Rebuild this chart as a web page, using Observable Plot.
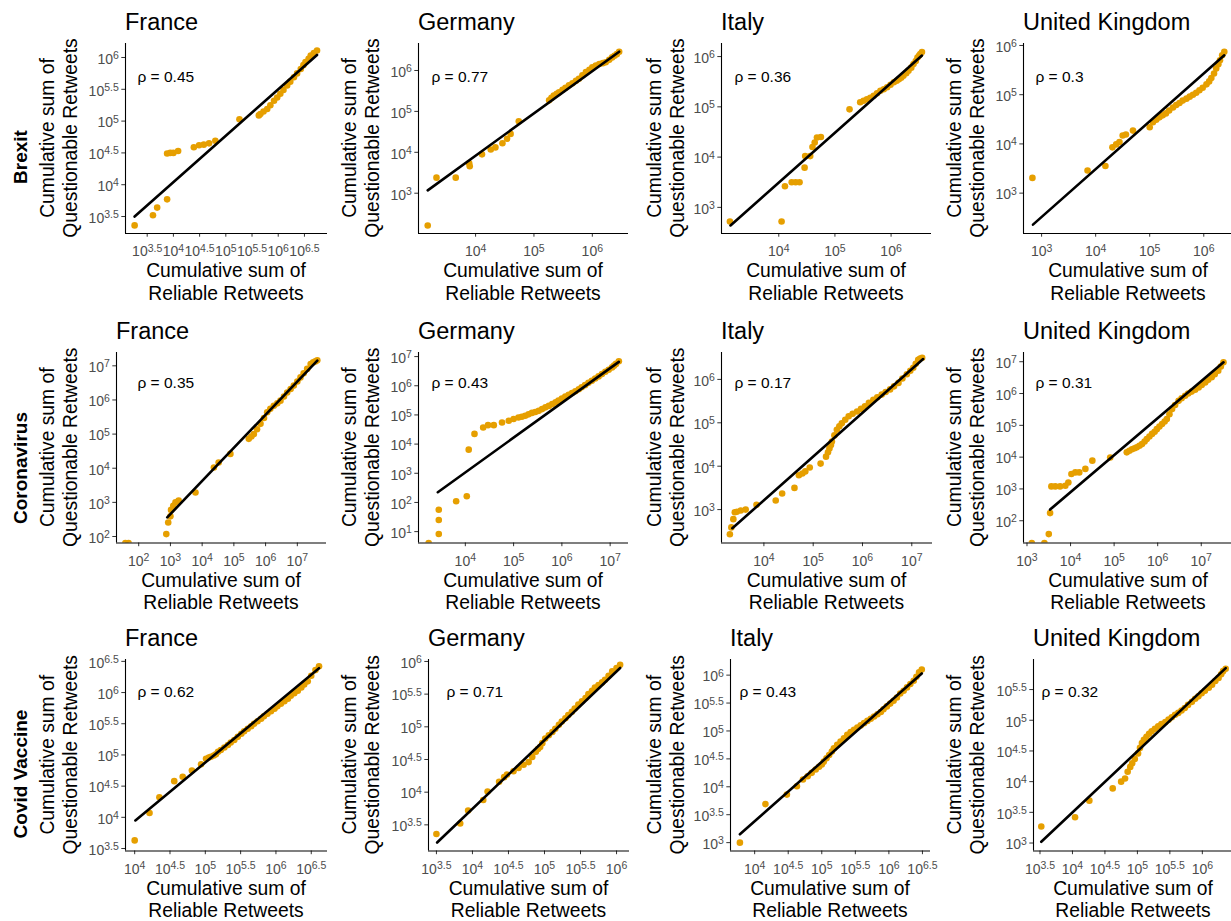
<!DOCTYPE html>
<html><head><meta charset="utf-8">
<script src="https://cdn.jsdelivr.net/npm/d3@7"></script>
<script src="https://cdn.jsdelivr.net/npm/@observablehq/plot@0.6"></script>
<style>
html,body{margin:0;padding:0;background:#fff;}
#fig{position:relative;width:1231px;height:921px;overflow:hidden;background:#fff;}
</style></head><body><div id="fig"></div>
<script>
// ---------- data: log10 of cumulative sums ----------
const topics = ["Brexit", "Coronavirus", "Covid Vaccine"];
const countries = ["France", "Germany", "Italy", "United Kingdom"];
const rhoValues = [0.45, 0.77, 0.36, 0.3, 0.35, 0.43, 0.17, 0.31, 0.62, 0.71, 0.43, 0.32];

const brexitFrance = [[3.26,3.36],[3.61,3.52],[3.69,3.64],[3.88,3.77],[3.88,4.49],[3.94,4.50],[4.00,4.50],[4.09,4.53],[4.39,4.59],[4.49,4.62],[4.58,4.63],[4.68,4.65],[4.80,4.69],[5.26,5.03],[5.63,5.09],[5.66,5.11],[5.72,5.15],[5.79,5.19],[5.85,5.25],[5.92,5.32],[5.98,5.37],[6.04,5.43],[6.10,5.49],[6.17,5.56],[6.23,5.62],[6.30,5.69],[6.36,5.75],[6.43,5.82],[6.48,5.88],[6.52,5.93],[6.58,5.98],[6.62,6.03],[6.68,6.07],[6.74,6.11]];
const brexitGermany = [[3.18,2.21],[3.33,3.38],[3.66,3.38],[3.89,3.73],[3.90,3.66],[4.11,3.95],[4.26,4.07],[4.34,4.12],[4.46,4.22],[4.54,4.33],[4.60,4.45],[4.74,4.76],[5.26,5.27],[5.30,5.33],[5.34,5.39],[5.39,5.43],[5.43,5.47],[5.49,5.53],[5.54,5.58],[5.60,5.64],[5.66,5.69],[5.72,5.75],[5.77,5.80],[5.83,5.88],[5.89,5.96],[5.95,6.02],[6.00,6.08],[6.06,6.12],[6.12,6.16],[6.18,6.18],[6.23,6.20],[6.29,6.26],[6.34,6.32],[6.38,6.36],[6.42,6.40],[6.46,6.46]];
const brexitItaly = [[3.13,2.72],[4.05,2.72],[4.11,3.42],[4.23,3.50],[4.30,3.50],[4.37,3.50],[4.46,3.79],[4.47,4.02],[4.56,4.02],[4.60,4.20],[4.64,4.29],[4.68,4.39],[4.75,4.40],[5.26,4.95],[5.45,5.09],[5.51,5.12],[5.57,5.15],[5.63,5.18],[5.69,5.22],[5.75,5.27],[5.81,5.32],[5.87,5.35],[5.93,5.39],[5.99,5.44],[6.05,5.49],[6.10,5.52],[6.14,5.55],[6.18,5.58],[6.22,5.62],[6.27,5.67],[6.31,5.72],[6.36,5.78],[6.40,5.85],[6.44,5.91],[6.47,5.98],[6.50,6.02],[6.52,6.05],[6.55,6.09]];
const brexitUK = [[2.83,3.31],[3.85,3.46],[4.18,3.55],[4.31,3.93],[4.38,3.99],[4.44,4.04],[4.50,4.17],[4.56,4.19],[4.69,4.27],[5.00,4.34],[5.06,4.44],[5.12,4.49],[5.18,4.54],[5.24,4.58],[5.30,4.62],[5.36,4.68],[5.43,4.74],[5.49,4.79],[5.55,4.83],[5.61,4.88],[5.68,4.92],[5.74,4.96],[5.80,5.00],[5.86,5.04],[5.92,5.09],[5.98,5.14],[6.05,5.21],[6.10,5.27],[6.14,5.34],[6.19,5.43],[6.23,5.53],[6.27,5.62],[6.30,5.70],[6.34,5.80],[6.38,5.87]];
const coronaFrance = [[1.58,1.81],[1.68,1.81],[2.87,2.07],[2.93,2.41],[3.00,2.59],[3.02,2.78],[3.09,2.90],[3.16,3.00],[3.26,3.05],[3.79,3.29],[4.37,4.02],[4.52,4.17],[4.89,4.42],[5.47,4.86],[5.55,4.93],[5.63,5.00],[5.73,5.14],[5.84,5.30],[5.95,5.47],[6.05,5.64],[6.15,5.74],[6.26,5.83],[6.37,5.90],[6.47,5.98],[6.58,6.10],[6.68,6.22],[6.79,6.32],[6.89,6.42],[7.00,6.54],[7.10,6.66],[7.20,6.78],[7.31,6.91],[7.42,7.05],[7.50,7.10],[7.57,7.13],[7.63,7.16]];
const coronaGermany = [[3.24,0.61],[3.45,0.92],[3.45,1.40],[3.45,1.75],[3.81,2.04],[4.03,2.21],[4.07,3.81],[4.19,4.35],[4.37,4.57],[4.47,4.65],[4.59,4.65],[4.76,4.74],[4.90,4.80],[5.00,4.86],[5.10,4.91],[5.17,4.94],[5.24,4.97],[5.31,5.02],[5.38,5.07],[5.45,5.10],[5.52,5.14],[5.59,5.20],[5.66,5.26],[5.73,5.31],[5.80,5.37],[5.87,5.43],[5.93,5.49],[6.00,5.56],[6.07,5.63],[6.14,5.69],[6.21,5.75],[6.28,5.81],[6.35,5.88],[6.41,5.95],[6.48,6.02],[6.55,6.10],[6.62,6.17],[6.69,6.25],[6.76,6.32],[6.83,6.40],[6.90,6.48],[6.97,6.55],[7.04,6.63],[7.08,6.69],[7.12,6.75],[7.18,6.84]];
const coronaItaly = [[3.31,2.43],[3.34,2.59],[3.38,2.78],[3.41,2.94],[3.45,2.95],[3.53,2.98],[3.63,3.00],[3.85,3.11],[4.24,3.21],[4.37,3.37],[4.62,3.50],[4.71,3.79],[4.78,3.83],[4.84,3.88],[4.93,3.97],[5.15,4.06],[5.26,4.22],[5.30,4.32],[5.33,4.41],[5.36,4.49],[5.38,4.57],[5.43,4.71],[5.48,4.84],[5.53,4.92],[5.58,4.99],[5.65,5.07],[5.72,5.15],[5.80,5.21],[5.89,5.26],[5.97,5.32],[6.05,5.38],[6.13,5.46],[6.22,5.53],[6.30,5.59],[6.39,5.65],[6.47,5.71],[6.56,5.77],[6.64,5.84],[6.73,5.92],[6.81,6.02],[6.90,6.12],[6.97,6.20],[7.03,6.27],[7.08,6.36],[7.13,6.45],[7.17,6.48],[7.21,6.50]];
const coronaUK = [[3.11,1.30],[3.40,1.30],[3.50,1.58],[3.53,2.24],[3.56,3.08],[3.65,3.08],[3.76,3.08],[3.88,3.10],[3.95,3.20],[4.02,3.47],[4.11,3.52],[4.20,3.52],[4.34,3.63],[4.50,3.89],[4.91,3.99],[5.29,4.15],[5.35,4.20],[5.41,4.25],[5.47,4.28],[5.52,4.31],[5.58,4.36],[5.64,4.41],[5.70,4.49],[5.75,4.57],[5.81,4.65],[5.87,4.73],[5.93,4.80],[5.98,4.88],[6.04,4.96],[6.10,5.04],[6.16,5.12],[6.21,5.20],[6.27,5.35],[6.33,5.51],[6.40,5.64],[6.48,5.77],[6.55,5.85],[6.63,5.93],[6.70,6.00],[6.78,6.06],[6.86,6.12],[6.94,6.19],[7.01,6.27],[7.09,6.35],[7.16,6.43],[7.24,6.51],[7.31,6.61],[7.39,6.72],[7.45,6.85],[7.51,6.98]];
const vaccineFrance = [[4.00,3.63],[4.21,4.07],[4.35,4.32],[4.56,4.58],[4.68,4.65],[4.81,4.75],[4.94,4.85],[5.01,4.94],[5.05,4.96],[5.08,4.97],[5.12,4.99],[5.15,5.01],[5.18,5.05],[5.22,5.08],[5.27,5.12],[5.32,5.16],[5.36,5.20],[5.41,5.24],[5.46,5.29],[5.51,5.34],[5.55,5.38],[5.60,5.42],[5.65,5.46],[5.69,5.50],[5.74,5.54],[5.79,5.58],[5.83,5.62],[5.88,5.66],[5.93,5.70],[5.98,5.74],[6.02,5.78],[6.07,5.82],[6.12,5.86],[6.17,5.90],[6.21,5.95],[6.26,5.99],[6.31,6.03],[6.36,6.08],[6.40,6.13],[6.45,6.18],[6.50,6.27],[6.56,6.36],[6.61,6.42]];
const vaccineGermany = [[3.50,3.36],[3.83,3.52],[3.94,3.72],[4.15,3.88],[4.21,4.01],[4.37,4.16],[4.44,4.23],[4.48,4.27],[4.57,4.32],[4.64,4.37],[4.71,4.42],[4.78,4.46],[4.83,4.54],[4.88,4.62],[4.91,4.66],[4.94,4.69],[4.97,4.75],[5.01,4.82],[5.06,4.87],[5.11,4.92],[5.15,4.97],[5.20,5.03],[5.24,5.08],[5.29,5.13],[5.33,5.18],[5.38,5.23],[5.42,5.28],[5.47,5.34],[5.52,5.39],[5.57,5.44],[5.61,5.50],[5.66,5.55],[5.70,5.60],[5.75,5.64],[5.80,5.68],[5.84,5.72],[5.89,5.78],[5.94,5.85],[6.00,5.90],[6.05,5.95]];
const vaccineItaly = [[3.78,3.00],[4.16,3.69],[4.48,3.86],[4.63,4.01],[4.72,4.13],[4.79,4.19],[4.85,4.25],[4.91,4.31],[4.96,4.36],[5.00,4.40],[5.03,4.45],[5.07,4.51],[5.11,4.57],[5.15,4.63],[5.18,4.69],[5.23,4.75],[5.28,4.81],[5.33,4.87],[5.38,4.93],[5.43,4.98],[5.48,5.02],[5.53,5.06],[5.58,5.10],[5.63,5.14],[5.68,5.18],[5.73,5.22],[5.78,5.26],[5.83,5.30],[5.88,5.34],[5.92,5.39],[5.97,5.44],[6.02,5.49],[6.07,5.54],[6.12,5.60],[6.17,5.67],[6.22,5.72],[6.27,5.78],[6.32,5.84],[6.37,5.90],[6.41,5.97],[6.45,6.05],[6.49,6.10]];
const vaccineUK = [[3.52,3.27],[4.04,3.42],[4.26,3.69],[4.62,3.89],[4.75,4.00],[4.81,4.05],[4.85,4.16],[4.89,4.24],[4.92,4.30],[4.96,4.37],[5.01,4.46],[5.04,4.55],[5.07,4.63],[5.10,4.68],[5.14,4.73],[5.18,4.78],[5.22,4.82],[5.27,4.86],[5.32,4.90],[5.37,4.94],[5.43,4.97],[5.48,5.01],[5.53,5.05],[5.58,5.09],[5.63,5.12],[5.68,5.16],[5.73,5.20],[5.78,5.25],[5.84,5.30],[5.89,5.35],[5.94,5.39],[5.99,5.44],[6.04,5.48],[6.10,5.53],[6.15,5.58],[6.20,5.64],[6.25,5.69],[6.29,5.75],[6.32,5.80],[6.36,5.84]];

const panelPoints = [brexitFrance, brexitGermany, brexitItaly, brexitUK,
  coronaFrance, coronaGermany, coronaItaly, coronaUK,
  vaccineFrance, vaccineGermany, vaccineItaly, vaccineUK];

// fitted line ends (log10 x, log10 y)
const fitLines = [
  [[3.26,3.50],[6.74,6.04]], [[3.18,3.07],[6.46,6.46]], [[3.14,2.64],[6.55,6.02]], [[2.84,2.36],[6.38,5.80]],
  [[2.90,2.56],[7.63,7.15]], [[3.43,2.35],[7.18,6.82]], [[3.36,2.57],[7.23,6.47]], [[3.53,2.35],[7.51,6.98]],
  [[4.01,3.95],[6.61,6.39]], [[3.51,3.23],[6.05,5.90]], [[3.78,3.15],[6.49,6.03]], [[3.52,3.02],[6.36,5.85]]
];

// tick exponents
const xTickExps = [
  [3.5,4,4.5,5,5.5,6,6.5], [4,5,6], [4,5,6], [3,4,5,6],
  [2,3,4,5,6,7], [4,5,6,7], [4,5,6,7], [3,4,5,6,7],
  [4,4.5,5,5.5,6,6.5], [3.5,4,4.5,5,5.5,6], [4,4.5,5,5.5,6,6.5], [3.5,4,4.5,5,5.5,6]
];
const yTickExps = [
  [3.5,4,4.5,5,5.5,6], [3,4,5,6], [3,4,5,6], [3,4,5,6],
  [2,3,4,5,6,7], [1,2,3,4,5,6,7], [3,4,5,6], [2,3,4,5,6,7],
  [3.5,4,4.5,5,5.5,6,6.5], [3.5,4,4.5,5,5.5,6], [3,3.5,4,4.5,5,5.5,6], [3,3.5,4,4.5,5,5.5]
];

// ---------- layout ----------
const frames = [ // [left, right, top, bottom] of each plotting area in page px
  [125,327,43,233],[418,628,43,233],[721,931,43,233],[1023,1233,43,233],
  [116,326,352,542.5],[418,628,352,542.5],[721,932,352,542.5],[1023,1233,352,542.5],
  [125,327,659,850.5],[428,629,659,850.5],[730,930,659,850.5],[1033,1233,659,850.5]
];
const xDomains = [
  [3.086,6.94],[3.022,6.62],[2.98,6.72],[2.665,6.55],
  [1.30,7.92],[3.03,7.38],[3.14,7.42],[2.92,7.74],
  [3.87,6.73],[3.39,6.18],[3.64,6.62],[3.40,6.48]
];
const yDomains = [
  [3.233,6.22],[2.015,6.66],[2.48,6.26],[2.18,6.04],
  [1.81,7.39],[0.61,7.14],[2.23,6.62],[1.30,7.29],
  [3.46,6.53],[3.10,6.03],[2.85,6.28],[2.87,5.99]
];
const rhoDx = [12,13,13,12, 21,13,13,12, 12,18,9,8];
const rhoDy = [27,27,27,27, 24,24,24,24, 26,26,26,26];
const yTitleX = [54.3, 356.3, 661.3, 961.3];
const rowLabelY = [157, 468, 774];

const FONT = '"Liberation Sans", Arial, Helvetica, sans-serif';
const ORANGE = "#E69F00";
const W = 1231, H = 921;
const fig = document.getElementById("fig");

const overlay = d3.select(fig).append("svg")
  .attr("width", W).attr("height", H)
  .style("position", "absolute").style("left", 0).style("top", 0)
  .attr("font-family", FONT);

const mL = 60, mR = 10, mT = 10, mB = 40;
const fmt = e => "10^" + e;

panelPoints.forEach((pts, i) => {
  const c = i % 4;
  const [L, R, T, B] = frames[i];
  const [x0, x1] = xDomains[i], [y0, y1] = yDomains[i];
  const data = pts.map(([x, y]) => ({x, y}));
  const fit = fitLines[i].map(([x, y]) => ({x, y}));
  const svg = Plot.plot({
    width: R - L + mL + mR,
    height: B - T + mT + mB,
    marginLeft: mL, marginRight: mR, marginTop: mT, marginBottom: mB,
    style: {position: "absolute", left: (L - mL) + "px", top: (T - mT) + "px",
      background: "transparent", overflow: "visible", maxWidth: "none",
      fontFamily: FONT, fontSize: "14px", color: "#4d4d4d"},
    x: {domain: [x0, x1], label: null},
    y: {domain: [y0, y1], label: null},
    marks: [
      Plot.axisX(xTickExps[i], {tickSize: 3.7, tickPadding: 3, tickFormat: fmt, label: null, fontSize: 14, stroke: "#333"}),
      Plot.axisY(yTickExps[i], {tickSize: 3.7, tickPadding: 3, tickFormat: fmt, label: null, fontSize: 14, stroke: "#333"}),
      Plot.dot(data, {x: "x", y: "y", r: 3.3, fill: ORANGE, clip: true}),
      Plot.line(fit, {x: "x", y: "y", stroke: "#000", strokeWidth: 2.6}),
      Plot.ruleX([x0], {stroke: "#000", strokeWidth: 1.1}),
      Plot.ruleY([y0], {stroke: "#000", strokeWidth: 1.1}),
      Plot.text([`ρ = ${rhoValues[i]}`], {frameAnchor: "top-left", dx: rhoDx[i], dy: rhoDy[i], textAnchor: "start", fill: "#000", fontSize: 15.5})
    ]
  });
  // superscript exponents on tick labels
  svg.querySelectorAll('g[aria-label="x-axis tick label"] text, g[aria-label="y-axis tick label"] text').forEach(t => {
    const isX = t.closest('g[aria-label="x-axis tick label"]') !== null;
    const s = t.textContent, k = s.indexOf("^");
    if (k < 0) return;
    t.textContent = s.slice(0, k);
    const ts = document.createElementNS("http://www.w3.org/2000/svg", "tspan");
    ts.setAttribute("dy", "-0.45em");
    ts.setAttribute("font-size", "0.75em");
    ts.textContent = s.slice(k + 1);
    t.appendChild(ts);
    t.setAttribute("y", isX ? "1.15em" : "0.45em");
  });
  fig.appendChild(svg);

  // panel title
  overlay.append("text").attr("x", L).attr("y", T - 13.5)
    .attr("font-size", 23.5).attr("fill", "#000").text(countries[c]);
  // x axis title (two lines)
  const cx = (L + R) / 2;
  const xt = overlay.append("text").attr("x", cx).attr("y", B + 44).attr("text-anchor", "middle")
    .attr("font-size", 19.3).attr("fill", "#000");
  xt.append("tspan").attr("x", cx).text("Cumulative sum of");
  xt.append("tspan").attr("x", cx).attr("dy", 22.5).text("Reliable Retweets");
  // y axis title (two lines, rotated)
  const cy = (T + B) / 2;
  const yt = overlay.append("text").attr("transform", `translate(${yTitleX[c]},${cy}) rotate(-90)`)
    .attr("text-anchor", "middle").attr("font-size", 19.3).attr("fill", "#000");
  yt.append("tspan").attr("x", 0).attr("y", 0).text("Cumulative sum of");
  yt.append("tspan").attr("x", 0).attr("dy", 22.5).text("Questionable Retweets");
});

// row labels
topics.forEach((t, r) => {
  overlay.append("text").attr("transform", `translate(27,${rowLabelY[r]}) rotate(-90)`)
    .attr("text-anchor", "middle").attr("font-size", 19).attr("font-weight", "bold")
    .attr("fill", "#000").text(t);
});
</script></body></html>
